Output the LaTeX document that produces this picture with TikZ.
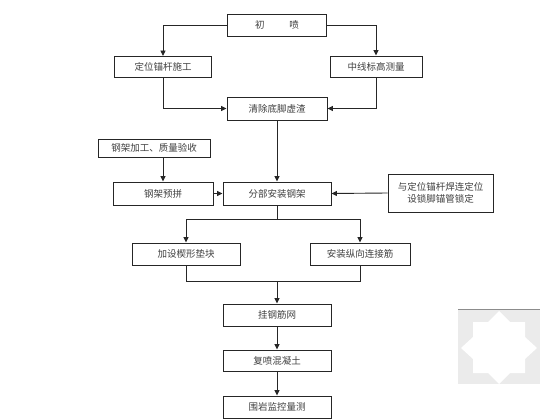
\documentclass[tikz,border=0pt]{standalone}
\usepackage{fontspec}
\newfontfamily\cjk{Noto Sans CJK SC}
\usetikzlibrary{arrows.meta,calc}
\begin{document}
\begin{tikzpicture}[x=1pt,y=-1pt,
  box/.style={draw=black!85,line width=0.9pt,fill=white,inner sep=1pt,align=center,
    font=\cjk\fontsize{9.5}{12}\selectfont,text=black!75,minimum height=22pt},
  conn/.style={draw=black!85,line width=0.9pt},
  arr/.style={conn,-{Triangle[length=5.5pt,width=5pt]}}]
\useasboundingbox (0,0) rectangle (560,420);
\fill[white] (0,0) rectangle (560,420);
% watermark
\fill[black!8] (458,309) rectangle (540,384);
\draw[black!45,line width=0.8pt] (458,309) -- (540,309);
\fill[white] (499,311) -- (510,322) -- (525,322) -- (525,337) -- (537,348) -- (525,359) -- (525,373) -- (510,373) -- (499,384) -- (488,373) -- (473,373) -- (473,359) -- (461,348) -- (473,337) -- (473,322) -- (488,322) -- cycle;
% nodes
\node[box,minimum width=99pt] (cp) at (277,25) {初\hspace{2.6em}喷};
\node[box,minimum width=97pt,minimum height=21pt] (dw) at (163,67) {定位锚杆施工};
\node[box,minimum width=92pt,minimum height=21pt] (zx) at (376,66.5) {中线标高测量};
\node[box,minimum width=100pt,minimum height=23pt] (qc) at (277,108.5) {清除底脚虚渣};
\node[box,minimum width=112pt,minimum height=18pt] (jg) at (154,148) {钢架加工、质量验收};
\node[box,minimum width=100pt,minimum height=23pt] (yp) at (163,193.5) {钢架预拼};
\node[box,minimum width=108pt,minimum height=23pt] (fb) at (277,193.5) {分部安装钢架};
\node[box,minimum width=105pt,minimum height=38pt] (yd) at (440.5,193) {与定位锚杆焊连定位\\设锁脚锚管锁定};
\node[box,minimum width=108pt] (xx) at (186,254) {加设楔形垫块};
\node[box,minimum width=100pt] (az) at (360,254) {安装纵向连接筋};
\node[box,minimum width=108pt] (gw) at (277,315) {挂钢筋网};
\node[box,minimum width=108pt,minimum height=21pt] (fp) at (277,360.5) {复喷混凝土};
\node[box,minimum width=108pt] (wy) at (277,407) {围岩监控量测};
\coordinate (sp) at (277,219);
\coordinate (mg) at (277,281);
% connectors
\draw[arr] (cp.west) -| (dw.north);
\draw[arr] (cp.east) -| (zx.north);
\draw[arr] (dw.south) |- (qc.west);
\draw[arr] (zx.south) |- (qc.east);
\draw[arr] (qc.south) -- (fb.north);
\draw[arr] (yp.north |- jg.south) -- (yp.north);
\draw[arr] (yp.east) -- (fb.west);
\draw[arr] (yd.west) -- (fb.east);
\draw[conn] (fb.south) -- (sp);
\draw[arr] (sp) -| (xx.north);
\draw[arr] (sp) -| (az.north);
\draw[conn] (xx.south) |- (mg);
\draw[conn] (az.south) |- (mg);
\draw[arr] (mg) -- (gw.north);
\draw[arr] (gw.south) -- (fp.north);
\draw[arr] (fp.south) -- (wy.north);
\end{tikzpicture}
\end{document}
